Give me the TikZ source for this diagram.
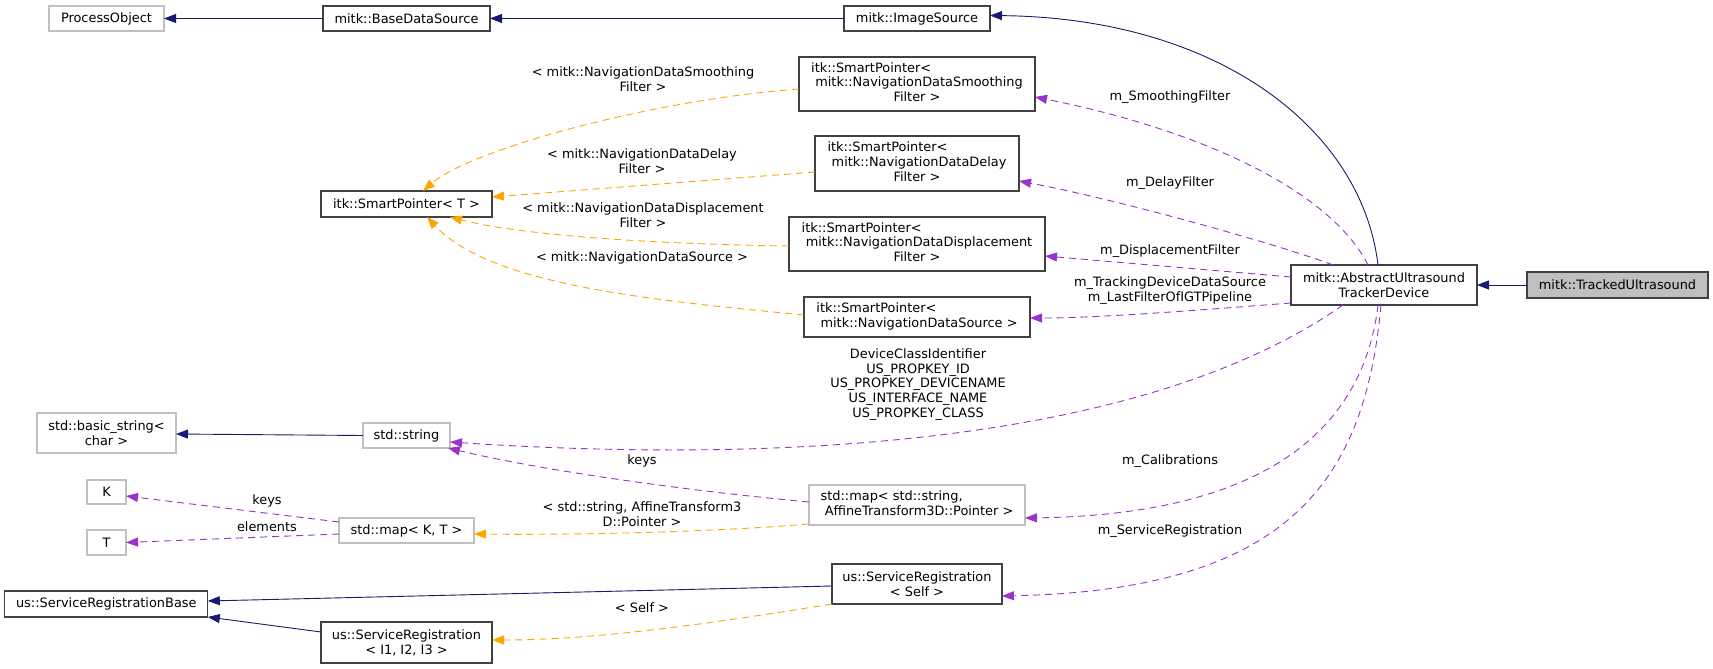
\documentclass[tikz,border=0pt]{standalone}
\usepackage{fontspec}
\setmainfont{DejaVu Sans}
\usetikzlibrary{arrows.meta}
\definecolor{navy}{HTML}{191970}
\definecolor{orch}{HTML}{9A32CD}
\definecolor{orng}{HTML}{FFA500}
\definecolor{lgray}{HTML}{BFBFBF}
\definecolor{dgray}{HTML}{404040}
\begin{document}
\begin{tikzpicture}[x=1pt,y=-1pt,
  every node/.style={font=\fontsize{12.9}{14.8}\selectfont, inner sep=0pt, outer sep=0pt},
  box/.style={draw=dgray, line width=1.2pt, fill=white, align=center},
  gbox/.style={draw=lgray, line width=1.2pt, fill=white, align=center},
  lbl/.style={align=center},
  tip/.style={-{Triangle[length=12pt,width=9pt]}},
  navyedge/.style={tip, draw=navy, line width=0.9pt},
  purpedge/.style={tip, draw=orch, line width=0.9pt, dash pattern=on 7pt off 5pt},
  orngedge/.style={tip, draw=orng, line width=0.9pt, dash pattern=on 7pt off 5pt}]
\useasboundingbox[fill=white] (0,0) rectangle (1713,669);

% nodes
\node[gbox, minimum width=115pt, minimum height=25pt] (po) at (106.5,18.5) {ProcessObject};
\node[box, minimum width=167pt, minimum height=25pt] (bds) at (406.5,18.5) {mitk::BaseDataSource};
\node[box, minimum width=146pt, minimum height=25pt] (is) at (917,18.5) {mitk::ImageSource};
\node[box, minimum width=171pt, minimum height=26pt] (spT) at (406.5,204) {itk::SmartPointer< T >};
\node[box, minimum width=236pt, minimum height=54pt] (sps) at (917,84)
  {\begin{tabular}{@{}l@{}}itk::SmartPointer<\\ \ mitk::NavigationDataSmoothing\\ \multicolumn{1}{@{}c@{}}{Filter >}\end{tabular}};
\node[box, minimum width=204pt, minimum height=55pt] (spd) at (917,163.5)
  {\begin{tabular}{@{}l@{}}itk::SmartPointer<\\ \ mitk::NavigationDataDelay\\ \multicolumn{1}{@{}c@{}}{Filter >}\end{tabular}};
\node[box, minimum width=256pt, minimum height=54pt] (spdisp) at (917,244)
  {\begin{tabular}{@{}l@{}}itk::SmartPointer<\\ \ mitk::NavigationDataDisplacement\\ \multicolumn{1}{@{}c@{}}{Filter >}\end{tabular}};
\node[box, minimum width=226pt, minimum height=40pt] (spsrc) at (917,317)
  {\begin{tabular}{@{}l@{}}itk::SmartPointer<\\ \ mitk::NavigationDataSource >\end{tabular}};
\node[box, minimum width=186pt, minimum height=40pt] (aus) at (1384,285) {mitk::AbstractUltrasound\\TrackerDevice};
\node[box, fill=lgray, minimum width=181pt, minimum height=26pt] (tus) at (1617.5,285) {mitk::TrackedUltrasound};
\node[gbox, minimum width=139pt, minimum height=40pt] (bstr) at (106.5,433) {std::basic\_string<\\char >};
\node[gbox, minimum width=87pt, minimum height=25pt] (str) at (406.5,435.5) {std::string};
\node[gbox, minimum width=39pt, minimum height=24pt] (K) at (106.5,492) {K};
\node[gbox, minimum width=39pt, minimum height=25pt] (T) at (106.5,542.5) {T};
\node[gbox, minimum width=135pt, minimum height=25pt] (mapKT) at (406.5,530.5) {std::map< K, T >};
\node[box, minimum width=203pt, minimum height=26pt] (srb) at (106.3,604) {us::ServiceRegistrationBase};
\node[box, minimum width=171pt, minimum height=41pt] (sri) at (406.5,642.5) {us::ServiceRegistration\\< I1, I2, I3 >};
\node[gbox, minimum width=216pt, minimum height=40pt] (mapstr) at (917,505)
  {\begin{tabular}{@{}l@{}}std::map< std::string,\\ \ AffineTransform3D::Pointer >\end{tabular}};
\node[box, minimum width=170pt, minimum height=40pt] (srs) at (917,584) {us::ServiceRegistration\\< Self >};

% navy inheritance edges
\draw[navyedge] (bds.west) -- (po.east);
\draw[navyedge] (is.west) -- (bds.east);
\draw[navyedge] ([xshift=-6pt]aus.north) .. controls (1362,130) and (1220,18) .. ([yshift=3pt]is.east);
\draw[navyedge] (tus.west) -- (aus.east);
\draw[navyedge] (str.west) -- ([yshift=-1pt]bstr.east);
\draw[navyedge] ([yshift=-2pt]srs.west) -- ([yshift=3pt]srb.east);
\draw[navyedge] ([yshift=10.5pt]sri.west) -- (srb.south east);

% purple usage edges
\draw[purpedge] ([xshift=-16pt]aus.north) .. controls (1330,190) and (1200,130) .. ([yshift=-13pt]sps.east);
\draw[purpedge] ([xshift=-51pt]aus.north) .. controls (1280,245) and (1120,200) .. ([yshift=-17.5pt]spd.east);
\draw[purpedge] ([yshift=8pt]aus.west) -- ([yshift=-12pt]spdisp.east);
\draw[purpedge] ([yshift=-18pt]aus.west) .. controls (1200,310) and (1100,318) .. ([yshift=-1pt]spsrc.east);
\draw[purpedge] ([xshift=-41pt]aus.south) .. controls (1150,440) and (800,465) .. ([yshift=-6.5pt]str.east);
\draw[purpedge] ([xshift=-6pt]aus.south) .. controls (1362,440) and (1250,515) .. ([yshift=-13pt]mapstr.east);
\draw[purpedge] ([xshift=-3pt]aus.south) .. controls (1365,480) and (1290,590) .. ([yshift=-12pt]srs.east);
\draw[purpedge] ([yshift=3pt]mapstr.west) .. controls (680,490) and (540,470) .. ([xshift=-2pt]str.south east);
\draw[purpedge] ([yshift=8.5pt]mapKT.west) -- ([yshift=-4pt]K.east);
\draw[purpedge] ([yshift=-3.5pt]mapKT.west) -- (T.east);

% orange template edges
\draw[orngedge] ([yshift=-5pt]sps.west) .. controls (650,100) and (470,150) .. ([xshift=16.5pt]spT.north);
\draw[orngedge] ([yshift=-8.5pt]spd.west) -- ([yshift=7pt]spT.east);
\draw[orngedge] ([yshift=-2pt]spdisp.west) .. controls (650,244) and (520,235) .. ([xshift=43.5pt]spT.south);
\draw[orngedge] ([yshift=2pt]spsrc.west) .. controls (650,300) and (490,285) .. ([xshift=20.5pt]spT.south);
\draw[orngedge] ([yshift=-19pt]mapstr.west) .. controls (700,533) and (560,535) .. ([yshift=-3.5pt]mapKT.east);
\draw[orngedge] (srs.south west) .. controls (720,622) and (600,640) .. ([yshift=2.5pt]sri.east);

% edge labels
\node[lbl] (lsm) at (643,79) {< mitk::NavigationDataSmoothing\\Filter >};
\node[lbl] (lde) at (642,161.5) {< mitk::NavigationDataDelay\\Filter >};
\node[lbl] (ldi) at (643,215) {< mitk::NavigationDataDisplacement\\Filter >};
\node[lbl] (lso) at (642,258) {< mitk::NavigationDataSource >};
\node[lbl] (lmsm) at (1170,97) {m\_SmoothingFilter};
\node[lbl] (lmde) at (1170,183) {m\_DelayFilter};
\node[lbl] (lmdi) at (1170,251) {m\_DisplacementFilter};
\node[lbl] (lmtr) at (1170,291) {m\_TrackingDeviceDataSource\\m\_LastFilterOfIGTPipeline};
\node[lbl] (ldev) at (918,384.5) {DeviceClassIdentifier\\US\_PROPKEY\_ID\\US\_PROPKEY\_DEVICENAME\\US\_INTERFACE\_NAME\\US\_PROPKEY\_CLASS};
\node[lbl] (lkeys) at (642,461) {keys};
\node[lbl] (lcal) at (1170,461) {m\_Calibrations};
\node[lbl] (laff) at (642,514) {< std::string, AffineTransform3\\D::Pointer >};
\node[lbl] (lsreg) at (1170,531) {m\_ServiceRegistration};
\node[lbl] (lkk) at (267,501) {keys};
\node[lbl] (lel) at (267,527) {elements};
\node[lbl] (lself) at (642,608) {< Self >};
\end{tikzpicture}
\end{document}
